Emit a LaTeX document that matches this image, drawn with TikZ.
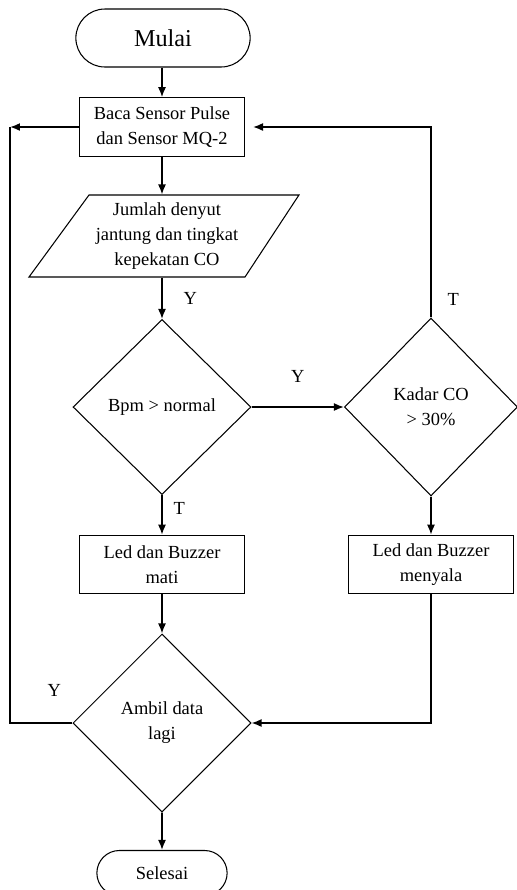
\documentclass[tikz,border=0pt]{standalone}
\usepackage{fontspec}
\setmainfont{Liberation Serif}
\usetikzlibrary{positioning, shapes.geometric, shapes.misc, arrows.meta}

\begin{document}
\begin{tikzpicture}[>={Latex[length=2mm, width=1.6mm]}, x=0.02cm, y=-0.02cm,
	every node/.style={font=\fontsize{10.5}{14.2}\selectfont, align=center},
	terminal/.style={draw, line width=0.6pt, rounded rectangle, minimum width=3.72cm, minimum height=1.16cm},
	process/.style={draw, line width=0.6pt, rectangle, minimum width=3.3cm, minimum height=1.17cm, inner sep=0pt},
	io/.style={draw, line width=0.6pt, trapezium, trapezium left angle=48, trapezium right angle=129, trapezium stretches body, minimum width=5.4cm, minimum height=1.64cm, inner sep=0pt},
	decision/.style={draw, line width=0.6pt, diamond, minimum width=3.56cm, minimum height=3.5cm, inner sep=0pt},
	line/.style={line width=0.9pt},
	arr/.style={line, ->}]
	\useasboundingbox (0,0) rectangle (517,890);
	% flowchart boxes
	\node[terminal, font=\fontsize{13.8}{16}\selectfont] (mulai) at (163,38) {Mulai};
	\node[process] (baca) at (162,127) {Baca Sensor Pulse\\dan Sensor MQ-2};
	\node[io] (jumlah) at (167,236) {Jumlah denyut\\jantung dan tingkat\\kepekatan CO};
	\node[decision] (bpm) at (162,407) {Bpm > normal};
	\node[decision, minimum width=3.46cm, minimum height=3.56cm] (kadar) at (431,407) {Kadar CO\\> 30\%};
	\node[process] (mati) at (162,564.5) {Led dan Buzzer\\mati};
	\node[process] (nyala) at (431,564.5) {Led dan Buzzer\\menyala};
	\node[decision, minimum height=3.56cm] (ambil) at (162,723) {Ambil data\\lagi};
	\node[terminal, minimum width=2.84cm, minimum height=0.9cm] (selesai) at (162,873) {Selesai};
	\coordinate (kiri) at (10,127);
	% arrows
	\draw[arr] (mulai.south -| baca) -- (baca);
	\draw[arr] (baca) -- (baca |- jumlah.north);
	\draw[arr] (baca |- jumlah.south) -- node[right=3mm] (y1) {Y} (bpm);
	\draw[arr] (bpm) -- node[above=3.5mm] (y2) {Y} (kadar);
	\draw[arr] (bpm) -- node[pos=0.35, right=1mm] (t1) {T} (mati);
	\draw[arr] (kadar) -- (nyala);
	\draw[arr, shorten >=1.6mm] (kadar.north) node[above right=1mm and 2mm] (t2) {T} |- (baca.east);
	\draw[arr] (mati) -- (ambil);
	\draw[arr] (nyala) |- (ambil.east);
	\draw[line] (ambil.west) -- node[pos=0.29, above=4mm] (y3) {Y} (ambil.west -| kiri) -- (kiri);
	\draw[arr] (baca.west) -- (kiri);
	\draw[arr] (ambil) -- (selesai);
\end{tikzpicture}
\end{document}
